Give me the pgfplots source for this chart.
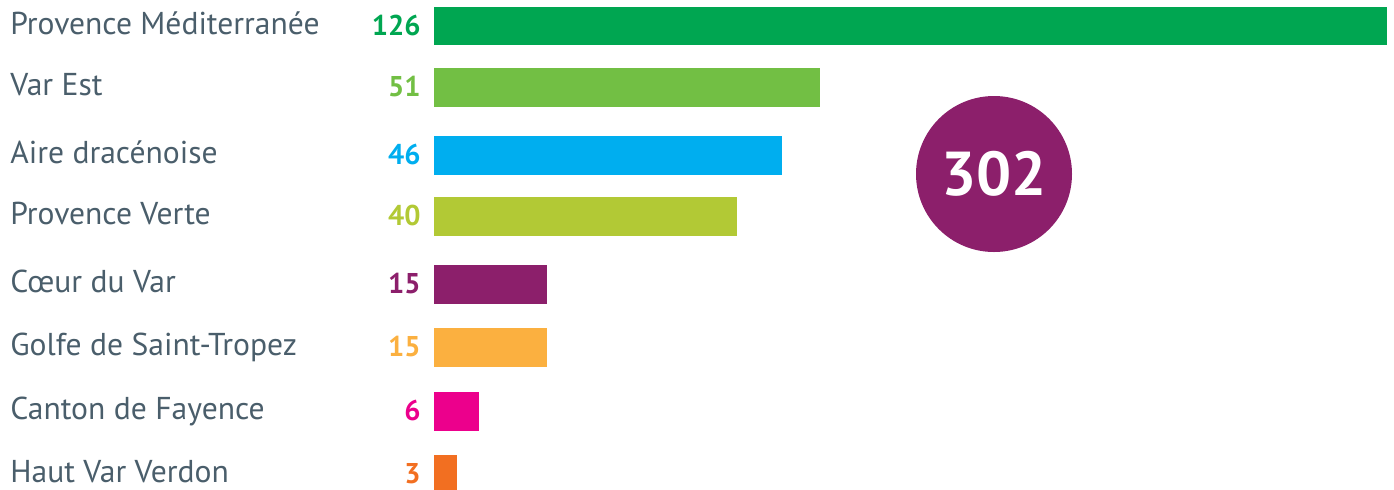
\documentclass[border=0pt]{standalone}
\usepackage{pgfplots}
\pgfplotsset{compat=1.18}
\usepackage{fontspec}
\setmainfont{PT Sans}

\definecolor{labgray}{HTML}{4A5E6B}
\definecolor{cpm}{HTML}{00A651}
\definecolor{cve}{HTML}{72BF44}
\definecolor{cad}{HTML}{00AEEF}
\definecolor{cpv}{HTML}{B2C935}
\definecolor{ccv}{HTML}{8C1F6B}
\definecolor{cgs}{HTML}{FBB040}
\definecolor{ccf}{HTML}{EC008C}
\definecolor{chv}{HTML}{F26F21}

% one bar and its value, written left of the bar start
% y positions are in pixels of the 489 px high picture
\newcommand\barrow[3]{%
  \addplot[xbar, bar shift=0pt, fill=#1, draw=none] coordinates {(#3,#2)};
  \addplot[draw=none, mark=none, nodes near coords, point meta=explicit,
    /pgf/number format/assume math mode=true,
    every node near coord/.style={anchor=base east, inner sep=0pt,
      xshift=-6.5pt, yshift=-4.5pt, text=#1, font=\fontsize{14.3}{16}\selectfont\bfseries}]
    coordinates {(0,#2) [#3]};
}

\begin{document}
\begin{tikzpicture}
\clip (0,0) rectangle (697pt,-244.5pt);
\begin{axis}[
  at={(217pt,0pt)}, anchor=north west,
  scale only axis,
  width=476.5pt, height=244.5pt,
  xmin=0, xmax=126,
  ymin=0, ymax=489,
  y dir=reverse,
  clip=false,
  bar width=19.2pt,
  axis line style={draw=none},
  major tick length=0pt,
  xtick=\empty,
  ytick={26,87.5,155.3,216.3,284.3,347.3,411.5,474},
  yticklabels={Provence Méditerranée, Var Est, Aire dracénoise, Provence Verte,
    Cœur du Var, Golfe de Saint-Tropez, Canton de Fayence, Haut Var Verdon},
  yticklabel style={anchor=base west, inner sep=0pt, xshift=-212pt, yshift=-4.15pt,
    text=labgray, font=\fontsize{15.8}{18}\selectfont},
]
\barrow{cpm}{26}{126}
\barrow{cve}{87.5}{51}
\barrow{cad}{155.3}{46}
\barrow{cpv}{216.3}{40}
\barrow{ccv}{284.3}{15}
\barrow{cgs}{347.3}{15}
\barrow{ccf}{411.5}{6}
\barrow{chv}{474}{3}
\end{axis}
\node[circle, fill=ccv, minimum size=78pt, inner sep=0pt, text=white,
  font=\fontsize{31}{34}\selectfont\bfseries] at (497pt,-87pt) {302};
\end{tikzpicture}
\end{document}
